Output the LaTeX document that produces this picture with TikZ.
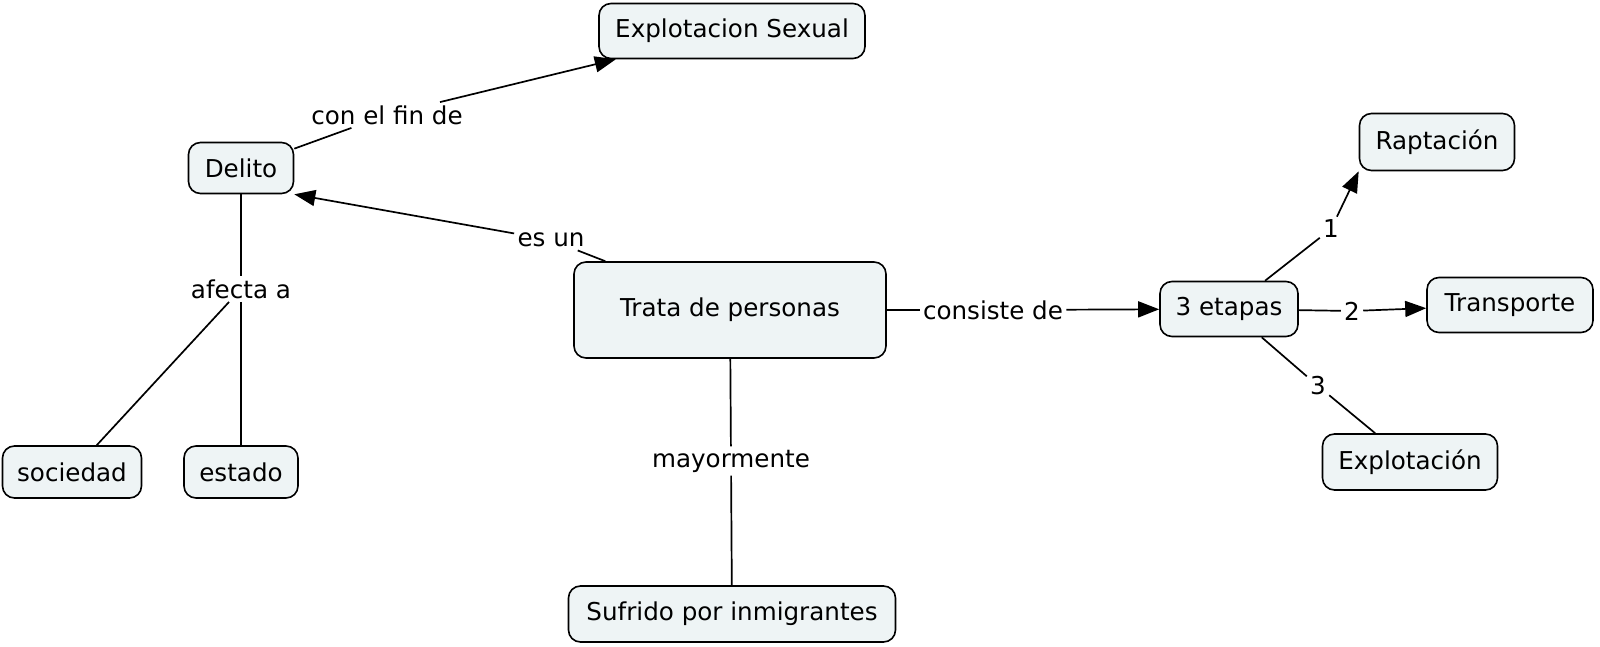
\documentclass[tikz,border=0pt]{standalone}
\usepackage{fontspec}
\setmainfont{DejaVu Sans}
\usetikzlibrary{arrows.meta}
\definecolor{cfill}{RGB}{238,244,245}
\tikzset{
  concept/.style={draw=black, line width=0.8pt, fill=cfill, rounded corners=6pt, font=\fontsize{12.3}{14}\selectfont, inner sep=2pt},
  phrase/.style={fill=white, inner sep=1.5pt, font=\fontsize{12.3}{14}\selectfont},
  link/.style={line width=0.85pt},
  arr/.style={link, -{Triangle[length=10.5pt,width=8pt]}},
  }
\begin{document}
\begin{tikzpicture}[x=0.5pt,y=-0.5pt]
  \useasboundingbox (0,0) rectangle (1600,647);

  % concepts
  \node[concept,minimum width=133pt,minimum height=27.5pt] (explsex) at ( 732, 31) {Explotacion Sexual};
  \node[concept,minimum width=52.5pt,minimum height=25.5pt] (delito)  at ( 241,168) {Delito};
  \node[concept,minimum width=156pt,minimum height=48pt]    (trata)   at ( 730,310) {Trata de personas};
  \node[concept,minimum width=69pt,minimum height=27.5pt]   (etapas)  at (1229,309) {3 etapas};
  \node[concept,minimum width=77.5pt,minimum height=28.5pt] (rapt)    at (1437,142) {Raptación};
  \node[concept,minimum width=83pt,minimum height=27.5pt]   (transp)  at (1510,305) {Transporte};
  \node[concept,minimum width=87.5pt,minimum height=28pt]   (explot)  at (1410,462) {Explotación};
  \node[concept,minimum width=69.5pt,minimum height=26pt]   (soc)     at (  72,472) {sociedad};
  \node[concept,minimum width=57pt,minimum height=26pt]     (estado)  at ( 241,472) {estado};
  \node[concept,minimum width=163.5pt,minimum height=28pt]  (sufrido) at ( 732,614) {Sufrido por inmigrantes};

  % linking phrases
  \node[phrase] (confin)   at ( 387,115) {con el fin de};
  \node[phrase] (esun)     at ( 551,240) {es un};
  \node[phrase] (afecta)   at ( 241,289) {afecta a};
  \node[phrase] (mayor)    at ( 731,461) {mayormente};
  \node[phrase] (consiste) at ( 993,310) {consiste de};
  \node[phrase] (uno)      at (1331,229) {1};
  \node[phrase] (dos)      at (1352,311) {2};
  \node[phrase] (tres)     at (1318,386) {3};

  % left part
  \draw[link] (delito) -- (confin);
  \draw[arr]  (confin) -- (explsex);
  \draw[link] (trata) -- (esun);
  \draw[arr]  (esun) -- (delito.south east);
  \draw[link] (delito) -- (afecta);
  \draw[link] (afecta) -- (soc);
  \draw[link] (afecta) -- (estado);

  % down
  \draw[link] (trata) -- (mayor);
  \draw[link] (mayor) -- (sufrido);

  % the three stages
  \draw[link] (trata) -- (consiste);
  \draw[arr]  (consiste) -- (etapas);
  \draw[link] (etapas) -- (uno);
  \draw[arr]  (uno) -- (rapt.south west);
  \draw[link] (etapas) -- (dos);
  \draw[arr]  (dos) -- (transp);
  \draw[link] (etapas) -- (tres);
  \draw[link] (tres) -- (explot);
\end{tikzpicture}
\end{document}
